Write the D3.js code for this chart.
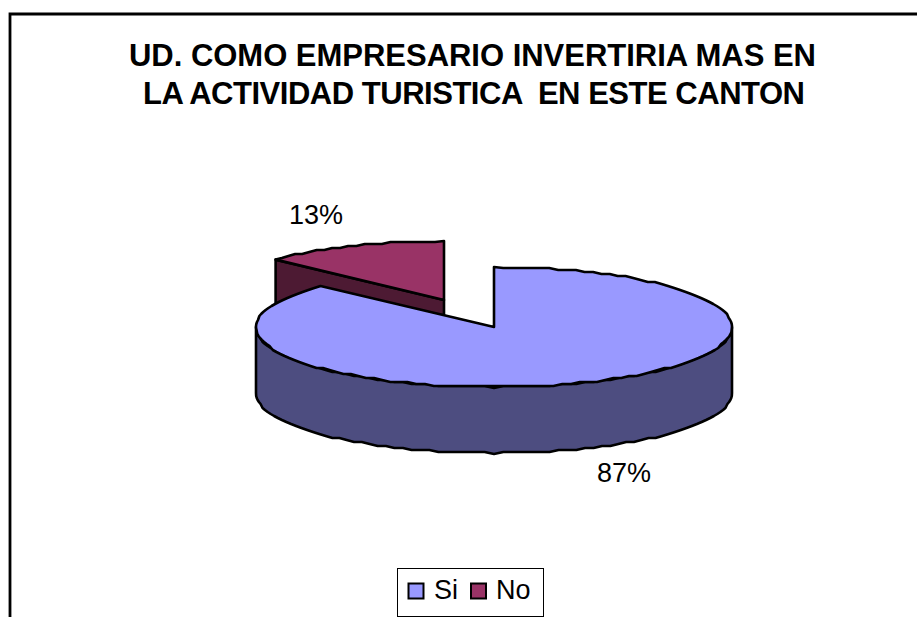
<!DOCTYPE html>
<html><head><meta charset="utf-8">
<style>html,body{margin:0;padding:0;background:#fff;overflow:hidden}svg{display:block}text{font-family:"Liberation Sans",Arial,sans-serif;fill:#000;white-space:pre}</style>
<script src="https://cdn.jsdelivr.net/npm/d3@7"></script>
</head><body><svg id="c" width="917" height="617"></svg>
<script>
const categories = ["Si","No"];
const values = [87,13];
const valueLabels = ["87%","13%"];
const colors = ["#9999FF","#993366"];
const sideColors = ["#4D4D80","#4D1A33"];
const titleLines = ["UD. COMO EMPRESARIO INVERTIRIA MAS EN","LA ACTIVIDAD TURISTICA  EN ESTE CANTON"];

const svg = d3.select("#c");
svg.append("path").attr("d","M10 617V14H917").attr("fill","none").attr("stroke","#000").attr("stroke-width",2.8);

svg.selectAll("text.title").data(titleLines).join("text").attr("class","title")
  .attr("x",(d,i)=>i?143:129).attr("y",(d,i)=>i?104:66)
  .attr("font-size",31).attr("font-weight","bold").attr("textLength",(d,i)=>i?662:687).attr("lengthAdjust","spacing").text(d=>d);

const arcs = d3.pie().sort(null).value(d=>d)(values);
const geo = [{cx:494,cy:327,rx:238,ry:60,depth:66},{cx:444,cy:300,rx:231,ry:59,depth:15}];
const P = (g,a)=>[g.cx+g.rx*Math.sin(a), g.cy-g.ry*Math.cos(a)];
const step = Math.PI/80;
// the reference's curves are slightly stepped outlines: snap rim heights to a small grid
const snap = p=>[p[0], Math.round(p[1]/2)*2];
function rim(g,a0,a1){
  const n=Math.max(1,Math.ceil((a1-a0)/step));
  return d3.range(n+1).map(i=>{
    const p=P(g,a0+(a1-a0)*i/n);
    return (i===0||i===n)?p:snap(p);
  });
}
const poly = d3.line();
const ink = {stroke:"#000","stroke-width":2.6,"stroke-linejoin":"round"};
const style=(s,o)=>{Object.entries(o).forEach(([k,v])=>s.attr(k,v));return s;};

// exploded slice (No) first: it sits behind the Si slice
const gN = geo[1], aN = arcs[1];
const apex=[gN.cx,gN.cy], left=P(gN,aN.startAngle);
style(svg.append("path").attr("d",poly([left,apex,[apex[0],apex[1]+gN.depth],[left[0],left[1]+gN.depth+40]])+"Z")
  .attr("fill",sideColors[1]),ink);
style(svg.append("path").attr("d",poly([...rim(gN,aN.startAngle,aN.endAngle),apex])+"Z")
  .attr("fill",colors[1]),ink);

// Si slice: outer wall, then top
const gS = geo[0], aS = arcs[0];
const wall = rim(gS,Math.PI/2,3*Math.PI/2);
style(svg.append("path").attr("d",poly([...wall,...wall.slice().reverse().map(p=>[p[0],p[1]+gS.depth])])+"Z")
  .attr("fill",sideColors[0]),ink);
style(svg.append("path").attr("d",poly([[gS.cx,gS.cy],...rim(gS,aS.startAngle,aS.endAngle)])+"Z")
  .attr("fill",colors[0]),ink);

svg.selectAll("text.val").data(valueLabels).join("text").attr("class","val")
  .attr("x",(d,i)=>i?316:624).attr("y",(d,i)=>i?224:482).attr("text-anchor","middle").attr("font-size",27).text(d=>d);

// legend
svg.append("rect").attr("x",397.5).attr("y",568.5).attr("width",146).attr("height",48).attr("fill","#fff").attr("stroke","#000").attr("stroke-width",1);
const lg = svg.selectAll("g.lg").data(categories).join("g").attr("class","lg");
lg.append("rect").attr("x",(d,i)=>i?471:408.5).attr("y",583.5).attr("width",15).attr("height",15)
  .attr("fill",(d,i)=>colors[i]).attr("stroke","#000").attr("stroke-width",2);
lg.append("text").attr("x",(d,i)=>i?496:434).attr("y",599).attr("font-size",27).text(d=>d);
</script></body></html>
